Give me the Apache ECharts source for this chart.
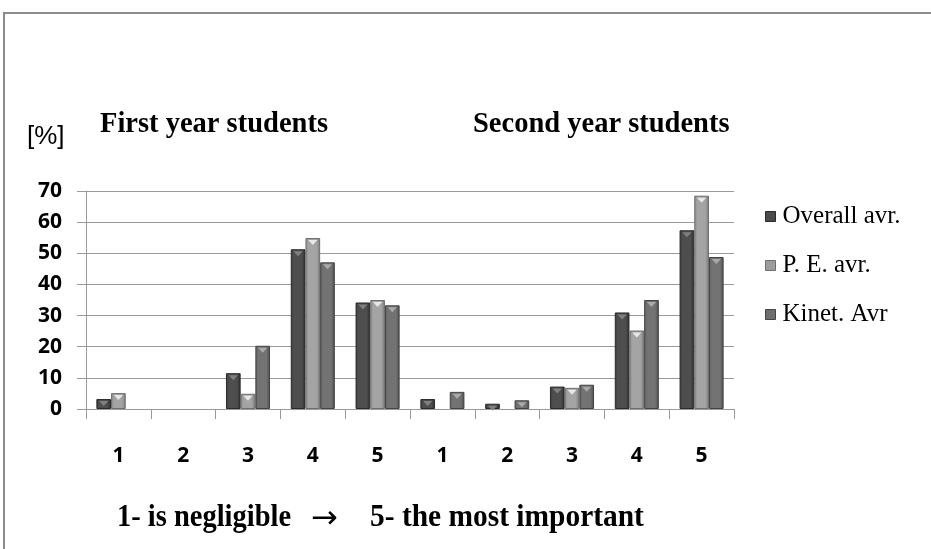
<!DOCTYPE html>
<html>
<head>
<meta charset="utf-8">
<style>
  html, body { margin: 0; padding: 0; background: #fff; }
  #chart { width: 931px; height: 549px; }
</style>
<script src="https://cdn.jsdelivr.net/npm/echarts@6/dist/echarts.min.js"></script>
</head>
<body>
<div id="chart"></div>
<script>
// Importance ratings 1..5, first-year block followed by second-year block
const categories = ['1', '2', '3', '4', '5', '1', '2', '3', '4', '5'];
const overallAvr = [3.2, 0, 11.5, 51.3, 34.2, 3.2, 1.7, 7.2, 31.0, 57.4];
const peAvr      = [5.1, 0, 4.9, 54.9, 35.0, 0, 0, 6.8, 25.2, 68.5];
const kinetAvr   = [0, 0, 20.3, 47.1, 33.3, 5.5, 2.8, 7.8, 35.0, 48.8];
const seriesNames = ['Overall avr.', 'P. E. avr.', 'Kinet. Avr'];
const yTicks = [0, 10, 20, 30, 40, 50, 60, 70];

function barFill(edge, mid, right) {
  return {
    type: 'linear', x: 0, y: 0, x2: 1, y2: 0,
    colorStops: [
      { offset: 0, color: edge },
      { offset: 0.2, color: mid },
      { offset: 0.75, color: mid },
      { offset: 1, color: right }
    ]
  };
}

const palette = [
  { fill: barFill('#3a3a3a', '#4e4e4e', '#2c2c2c'), border: '#2a2a2a', legend: '#4a4a4a', cap: '#8a8a8a' },
  { fill: barFill('#8a8a8a', '#a4a4a4', '#7a7a7a'), border: '#6e6e6e', legend: '#9c9c9c', cap: '#f4f4f4' },
  { fill: barFill('#5e5e5e', '#737373', '#4c4c4c'), border: '#444444', legend: '#6e6e6e', cap: '#b4b4b4' }
];

const dataSets = [overallAvr, peAvr, kinetAvr];
const BAR_GAP = '0%';
const CAT_GAP = '32%';

// main bars; empty categories get no outline
const barSeries = dataSets.map((d, i) => ({
  name: seriesNames[i],
  type: 'bar',
  data: d.map(v => v > 0 ? v : { value: v, itemStyle: { borderWidth: 0 } }),
  barGap: BAR_GAP,
  barCategoryGap: CAT_GAP,
  itemStyle: { color: palette[i].fill, borderColor: palette[i].border, borderWidth: 1 },
  z: 2
}));

// bevel highlight at the top of each bar
const capSeries = dataSets.map((d, i) => ({
  name: seriesNames[i] + ' cap',
  type: 'pictorialBar',
  data: d.map(v => v > 0 ? v : '-'),
  barGap: BAR_GAP,
  barCategoryGap: CAT_GAP,
  symbol: 'path://M0,0 L10,0 L5,6 Z',
  symbolPosition: 'end',
  symbolSize: ['62%', 5],
  symbolOffset: [0, 2],
  itemStyle: { color: palette[i].cap, opacity: 0.85 },
  silent: true,
  z: 3
}));

const chart = echarts.init(document.getElementById('chart'), null, { renderer: 'canvas' });

chart.setOption({
  animation: false,
  backgroundColor: '#ffffff',
  grid: { left: 86, right: 197, top: 191, bottom: 140, containLabel: false },
  legend: {
    orient: 'vertical',
    left: 760,
    top: 199,
    itemWidth: 10,
    itemHeight: 10,
    itemGap: 24,
    icon: 'rect',
    textStyle: { fontFamily: 'Liberation Serif', fontSize: 25, color: '#000', padding: [0, 0, 0, 2] },
    data: seriesNames.map((n, i) => ({ name: n, itemStyle: { color: palette[i].legend, borderColor: palette[i].border, borderWidth: 1 } }))
  },
  xAxis: {
    type: 'category',
    data: categories,
    axisLine: { lineStyle: { color: '#9a9a9a', width: 1 } },
    axisTick: { show: true, length: 10, lineStyle: { color: '#9a9a9a' } },
    axisLabel: { margin: 37, fontFamily: 'Open Sans', fontWeight: 'bold', fontSize: 21, color: '#000' }
  },
  yAxis: {
    type: 'value',
    min: yTicks[0],
    max: yTicks[yTicks.length - 1],
    interval: 10,
    axisLine: { show: true, lineStyle: { color: '#9a9a9a' } },
    axisTick: { show: true, length: 9, lineStyle: { color: '#9a9a9a' } },
    splitLine: { lineStyle: { color: '#9a9a9a', width: 1 } },
    axisLabel: { margin: 24, fontFamily: 'Open Sans', fontWeight: 'bold', fontSize: 21, color: '#000' }
  },
  series: barSeries.concat(capSeries),
  graphic: [
    { type: 'rect', shape: { x: 4, y: 13, width: 1000, height: 1000 },
      style: { fill: 'none', stroke: '#8c8c8c', lineWidth: 2 }, silent: true, z: 100 },
    { type: 'text', x: 27, y: 137,
      style: { text: '[%]', font: '26px "Liberation Sans"', fill: '#000', verticalAlign: 'middle' } },
    { type: 'text', x: 100, y: 124, scaleX: 0.95,
      style: { text: 'First year students', font: 'bold 30px "Liberation Serif"', fill: '#000', verticalAlign: 'middle' } },
    { type: 'text', x: 473, y: 124, scaleX: 0.95,
      style: { text: 'Second year students', font: 'bold 30px "Liberation Serif"', fill: '#000', verticalAlign: 'middle' } },
    { type: 'text', x: 117, y: 518, scaleX: 0.89,
      style: { text: '1- is negligible', font: 'bold 32px "Liberation Serif"', fill: '#000', verticalAlign: 'middle' } },
    { type: 'text', x: 311, y: 520,
      style: { text: '\u2192', font: '32px "DejaVu Sans"', fill: '#000', verticalAlign: 'middle' } },
    { type: 'text', x: 370, y: 518, scaleX: 0.92,
      style: { text: '5- the most important', font: 'bold 32px "Liberation Serif"', fill: '#000', verticalAlign: 'middle' } }
  ]
});
</script>
</body>
</html>
